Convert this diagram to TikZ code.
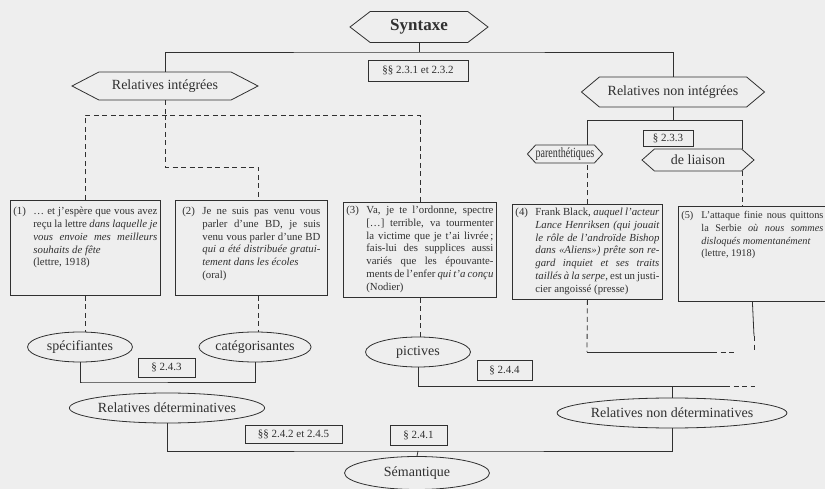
\documentclass[tikz,border=0pt]{standalone}
\usepackage{fontspec}
\setmainfont{Liberation Serif}
\usetikzlibrary{shapes.geometric,shapes.symbols}

\definecolor{paper}{HTML}{EEEEEE}
\definecolor{ink}{HTML}{303030}

% text of an example box: [top skip], width, number, text
\newcommand{\exemple}[4][0pt]{\parbox[t][87pt][t]{#2}{\vspace*{#1}\hangindent=20pt\hangafter=1\noindent\makebox[20pt][l]{(#3)}#4}}

\tikzset{
  hexa/.style={draw, shape=signal, signal to=east and west, signal pointer angle=#1, inner sep=0pt, line width=0.8pt, font=\fontsize{14}{16}\selectfont},
  hexa/.default=80,
  oval/.style={draw, ellipse, inner sep=0pt, line width=0.8pt, minimum width=105pt, minimum height=30pt, font=\fontsize{14}{16}\selectfont},
  sect/.style={draw, inner sep=0pt, line width=0.7pt, font=\fontsize{11}{13}\selectfont},
  exbox/.style={draw, anchor=north west, inner xsep=3pt, inner ysep=4pt, line width=0.8pt, font=\fontsize{10.8}{12.7}\selectfont},
  link/.style={line width=0.8pt},
  dlink/.style={line width=0.8pt, dash pattern=on 5pt off 3.5pt}
}

\begin{document}
\begin{tikzpicture}[x=1pt,y=-1pt,color=ink]
    \clip (0,0) rectangle (825,489);
    \fill[paper] (0,0) rectangle (825,489);

    % syntax part
    \node[hexa=75, minimum width=138pt, minimum height=31pt, font=\fontsize{17}{20}\selectfont\bfseries] (syn) at (419,27) {Syntaxe};
    \node[sect, minimum width=100pt, minimum height=21pt] (s231) at (418,70.5) {§§ 2.3.1 et 2.3.2};
    \node[hexa=55, minimum width=186pt, minimum height=28pt] (ri) at (165,86) {Relatives intégrées};
    \node[hexa, minimum width=183pt, minimum height=30pt] (rni) at (673,92) {Relatives non intégrées};
    \node[sect, minimum width=50pt, minimum height=16pt] (s233) at (668,138.5) {§ 2.3.3};
    \node[hexa=95, minimum width=62pt, minimum height=18pt] (par) at (565,154) {\scalebox{0.72}[1]{parenthétiques}};
    \node[hexa=83, minimum width=112pt, minimum height=22pt] (dl) at (698,160) {de liaison};

    % examples
    \node[exbox] (ex1) at (10,200) {\exemple[3pt]{144pt}{1}{… et j'espère que vous avez\linebreak reçu la lettre \textit{dans laquelle je\linebreak vous envoie mes meilleurs\linebreak souhaits de fête}\\ (lettre, 1918)}};
    \node[exbox, inner xsep=7pt] (ex2) at (175,200) {\exemple[3pt]{138pt}{2}{Je ne suis pas venu vous\linebreak parler d'une BD, je suis\linebreak venu vous parler d'une BD\linebreak \textit{qui a été distribuée gratui-\linebreak tement dans les écoles}\\ (oral)}};
    \node[exbox] (ex3) at (343,202) {\exemple{147pt}{3}{Va, je te l'ordonne, spectre\linebreak {[}…{]} terrible, va tourmenter\linebreak la victime que je t'ai livrée\,;\linebreak fais-lui des supplices aussi\linebreak variés que les épouvante-\linebreak ments de l'enfer \textit{qui t'a conçu}\\ (Nodier)}};
    \node[exbox] (ex4) at (512,204) {\exemple{144pt}{4}{Frank Black, \textit{auquel l'acteur\linebreak Lance Henriksen (qui jouait\linebreak le rôle de l'androïde Bishop\linebreak dans «Aliens») prête son re-\linebreak gard inquiet et ses traits\linebreak taillés à la serpe}, est un justi-\linebreak cier angoissé (presse)}};
    \node[exbox, inner xsep=3pt, font=\fontsize{10.3}{12.7}\selectfont] (ex5) at (678,206) {\exemple[1pt]{142pt}{5}{L'attaque finie nous quittons\linebreak la Serbie \textit{où nous sommes\linebreak disloqués momentanément}\\ (lettre, 1918)}};

    % semantic part
    \node[oval] (spec) at (80,347) {spécifiantes};
    \node[oval] (cat) at (255,347) {catégorisantes};
    \node[oval] (pict) at (418,352) {pictives};
    \node[sect, minimum width=57pt, minimum height=19pt] (s243) at (166.5,367.5) {§ 2.4.3};
    \node[sect, minimum width=55pt, minimum height=20pt] (s244) at (504.5,370) {§ 2.4.4};
    \node[oval, minimum width=181pt] (rd) at (167,408) {Relatives déterminatives};
    \node[oval, minimum width=185pt] (rnd) at (672,413) {Relatives non déterminatives};
    \node[sect, minimum width=97pt, minimum height=18pt] (s2425) at (293.5,434) {§§ 2.4.2 et 2.4.5};
    \node[sect, minimum width=57pt, minimum height=20pt] (s241) at (418.5,435) {§ 2.4.1};
    \node[oval, minimum width=145pt, minimum height=33pt] (sem) at (417,473) {Sémantique};

    % junctions
    \coordinate (jsyn) at (419,52);
    \coordinate (jpl) at (587,120);
    \coordinate (jpr) at (742,120);
    \coordinate (jri) at (165,115);
    \coordinate (jri2) at (258,167);
    \coordinate (jspec) at (82,382);
    \coordinate (jpict) at (725,386);
    \coordinate (jpict2) at (755,386);
    \coordinate (jsem) at (418,451);
    \coordinate (jex4) at (587,352);
    \coordinate (jex4b) at (712,352);
    \coordinate (jex4c) at (735,352);
    \coordinate (jex5) at (754,336);
    \coordinate (jex5b) at (754,352);

    \draw[link] (syn.south) -- (jsyn);
    \draw[link] (ri.north) |- (jsyn) -| (rni.north);
    \draw[link] (rni.south) -- (rni.south |- jpl);
    \draw[link] (par.north -| jpl) |- (jpr) -- (dl.north -| jpr);

    \draw[dlink] (ri.south) -- (jri);
    \draw[dlink] (ex1.north) |- (ex3.north |- jri) -- (ex3.north);
    \draw[dlink] (jri) |- (jri2) -- (ex2.north -| jri2);
    \draw[dlink] (ex4.north) -- (ex4.north |- par.south);
    \draw[dlink] (dl.south -| jpr) -- (ex5.north -| jpr);

    \draw[dlink] (ex1.south) -- (spec.north -| ex1.south);
    \draw[dlink] (ex2.south -| jri2) -- (cat.north -| jri2);
    \draw[dlink] (ex3.south) -- (pict.north -| ex3.south);

    \draw[link] (spec.south) |- (jspec) -| (cat.south);
    \draw[link] (pict.south) |- (jpict);
    \draw[dlink] (jpict) -- (jpict2);
    \draw[link] (rnd.north) -- (rnd.north |- jpict);
    \draw[link] (rd.south) |- (jsem) -| (rnd.south);
    \draw[link] (sem.north) -- (jsem);

    \draw[dlink] (ex4.south) -- (jex4);
    \draw[link] (jex4) -- (jex4b);
    \draw[dlink] (jex4b) -- (jex4c);
    \draw[link] (ex5.south) -- (jex5);
    \draw[dlink] (jex5) -- (jex5b);
\end{tikzpicture}
\end{document}
